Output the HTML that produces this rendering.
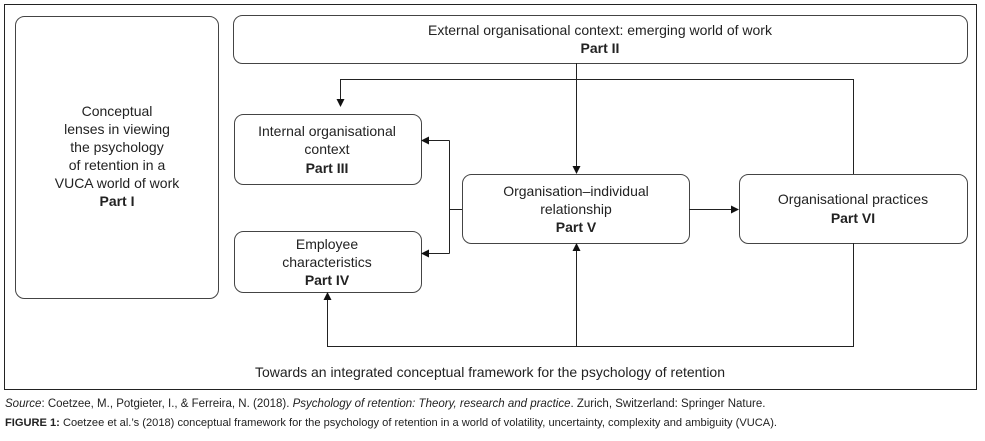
<!DOCTYPE html>
<html><head><style>
body{margin:0;background:#fff;width:985px;height:441px;overflow:hidden;font-family:"Liberation Sans",sans-serif;}
.cap{position:absolute;left:5px;color:#222;white-space:nowrap;}
</style></head><body>
<svg width="985" height="441" style="position:absolute;left:0;top:0" font-family="Liberation Sans, sans-serif" font-size="14" fill="#222">
<defs><marker id="a" markerWidth="8" markerHeight="8" refX="7" refY="4" orient="auto" markerUnits="userSpaceOnUse"><path d="M0,0L8,4L0,8z" fill="#111"/></marker></defs>
<rect x="4.5" y="4.5" width="972" height="385" fill="none" stroke="#222"/>
<g fill="#fff" stroke="#444" stroke-width="1">
<rect x="15.5" y="16.5" width="203" height="282" rx="9"/>
<rect x="233.5" y="15.5" width="734" height="48" rx="9"/>
<rect x="234.5" y="114.5" width="187" height="70" rx="9"/>
<rect x="234.5" y="231.5" width="187" height="61" rx="9"/>
<rect x="462.5" y="174.5" width="227" height="69" rx="9"/>
<rect x="739.5" y="174.5" width="228" height="69" rx="9"/>
</g>
<g stroke="#222" fill="none">
<path d="M340.5,106V79.5H853.5V174"/>
<path d="M340.5,79.5V106" marker-end="url(#a)"/>
<path d="M576.5,63V173" marker-end="url(#a)"/>
<path d="M853.5,243V346.5H327.5V293" marker-end="url(#a)"/>
<path d="M576.5,346V244" marker-end="url(#a)"/>
<path d="M462,209.5H449.5M449.5,140.5V253.5"/>
<path d="M449.5,140.5H422" marker-end="url(#a)"/>
<path d="M449.5,253.5H422" marker-end="url(#a)"/>
<path d="M689,209.5H738" marker-end="url(#a)"/>
</g>
<g text-anchor="middle">
<text x="117" y="116">Conceptual</text>
<text x="117" y="134">lenses in viewing</text>
<text x="117" y="152">the psychology</text>
<text x="117" y="170">of retention in a</text>
<text x="117" y="188">VUCA world of work</text>
<text x="117" y="206" font-weight="bold">Part I</text>
<text x="600" y="35">External organisational context: emerging world of work</text>
<text x="600" y="53" font-weight="bold">Part II</text>
<text x="327" y="136">Internal organisational</text>
<text x="327" y="154">context</text>
<text x="327" y="173" font-weight="bold">Part III</text>
<text x="327" y="249">Employee</text>
<text x="327" y="267">characteristics</text>
<text x="327" y="285" font-weight="bold">Part IV</text>
<text x="576" y="196">Organisation–individual</text>
<text x="576" y="214">relationship</text>
<text x="576" y="232" font-weight="bold">Part V</text>
<text x="853" y="204">Organisational practices</text>
<text x="853" y="223" font-weight="bold">Part VI</text>
<text x="490" y="377">Towards an integrated conceptual framework for the psychology of retention</text>
</g>
</svg>
<div class="cap" style="top:398px;font-size:11.5px"><i>Source</i>: Coetzee, M., Potgieter, I., &amp; Ferreira, N. (2018). <i>Psychology of retention: Theory, research and practice</i>. Zurich, Switzerland: Springer Nature.</div>
<div class="cap" style="top:417px;font-size:11.1px"><b>FIGURE 1:</b> Coetzee et al.’s (2018) conceptual framework for the psychology of retention in a world of volatility, uncertainty, complexity and ambiguity (VUCA).</div>
</body></html>
